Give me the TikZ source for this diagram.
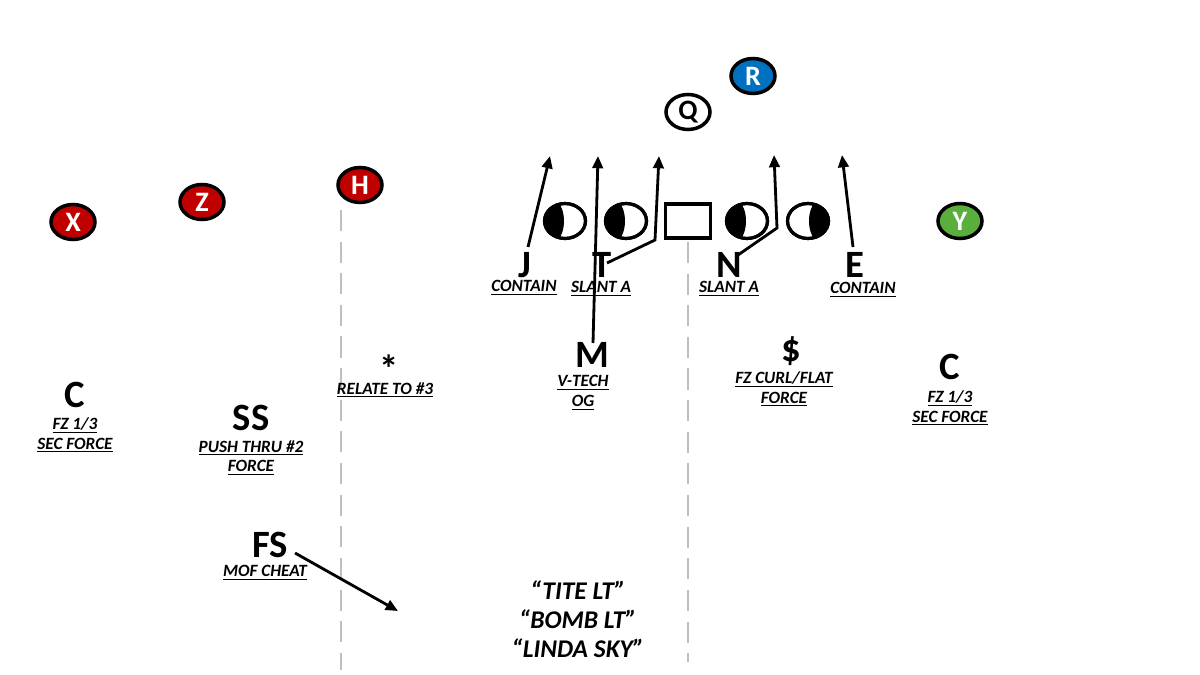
\documentclass[tikz,border=0pt]{standalone}
\usepackage{fontspec}
\setmainfont{Carlito}
\usetikzlibrary{shapes.geometric,arrows.meta}
\definecolor{redp}{HTML}{C00000}
\definecolor{bluep}{HTML}{0070C0}
\definecolor{greenp}{HTML}{5AAE3C}
\definecolor{dashgray}{HTML}{BFBFBF}
\begin{document}
\begin{tikzpicture}[x=0.02cm,y=-0.02cm,
  player/.style={ellipse,draw=black,line width=2pt,minimum width=0.88cm,minimum height=0.7cm,inner sep=0pt,text=white,font=\fontsize{16}{16}\selectfont\bfseries},
  olman/.style={ellipse,draw=black,line width=1.8pt,minimum width=0.82cm,minimum height=0.7cm,inner sep=0pt},
  center/.style={rectangle,draw=black,line width=1.8pt,minimum width=0.9cm,minimum height=0.68cm,inner sep=0pt},
  big/.style={font=\fontsize{22}{22}\selectfont\bfseries,inner sep=0pt,text depth=0pt},
  lab/.style={font=\fontsize{9.8}{11.3}\selectfont\bfseries\itshape,align=center,inner sep=0pt},
  call/.style={font=\fontsize{14.5}{16.4}\selectfont\bfseries\itshape,align=center,inner sep=0pt},
  route/.style={line width=1.6pt,-{Triangle[length=7pt,width=6pt]}},
  yard/.style={draw=dashgray,line width=1.5pt,dash pattern=on 12pt off 6pt}
]
\useasboundingbox (0,0) rectangle (1200,675);
% field markers
\draw[yard] (341,210) -- (341,670);
\draw[yard] (688,242) -- (688,662);
% receivers / backs
\node[player,fill=redp] (X) at (73,222) {X};
\node[player,fill=redp] (Z) at (202,202) {Z};
\node[player,fill=redp] (H) at (360,185) {H};
\node[player,fill=bluep] (R) at (753,76) {R};
\node[player,fill=white,text=black] (Q) at (688,112) {Q};
\node[player,fill=greenp] (Y) at (960,221) {Y};
% offensive line
\node[olman] (OL1) at (565,221) {};
\node[olman] (OL2) at (626,221) {};
\node[center] (OC) at (688,221) {};
\node[olman] (OL3) at (747,221) {};
\node[olman] (OL4) at (808,221) {};
\foreach \n in {OL1,OL2,OL3}{
  \begin{scope}
    \clip (\n.center) ellipse (0.41cm and 0.35cm);
    \fill[black] ([xshift=-0.5cm]\n.center) ellipse (0.48cm and 0.6cm);
  \end{scope}
  \node[olman] at (\n.center) {};
}
\begin{scope}
  \clip (OL4.center) ellipse (0.41cm and 0.35cm);
  \fill[black] ([xshift=0.5cm]OL4.center) ellipse (0.48cm and 0.6cm);
\end{scope}
\node[olman] at (OL4.center) {};
% defensive front
\node[big] (J) at (525,265) {J};
\node[big] (T) at (602,265) {T};
\node[big] (N) at (729,265) {N};
\node[big] (E) at (855,265) {E};
\node[lab] (Jl) at (524,288) {\underline{CONTAIN}};
\node[lab] (Tl) at (601,289) {\underline{SLANT A}};
\node[lab] (Nl) at (729,289) {\underline{SLANT A}};
\node[lab] (El) at (863,290) {\underline{CONTAIN}};
% second level
\node[big] (M) at (592,355) {M};
\node[lab] (Ml) at (583,393) {\underline{V-TECH}\\\underline{OG}};
\node[big] (D) at (791,349) {\$};
\node[lab] (Dl) at (784,389) {\underline{FZ CURL/FLAT}\\\underline{FORCE}};
\node[big] (C2) at (950,367) {C};
\node[lab] (C2l) at (950,408) {\underline{FZ 1/3}\\\underline{SEC FORCE}};
\node[big] (C1) at (75,395) {C};
\node[lab] (C1l) at (75,435) {\underline{FZ 1/3}\\\underline{SEC FORCE}};
\node[big] (SS) at (251,418) {SS};
\node[lab] (SSl) at (251,458) {\underline{PUSH THRU \#2}\\\underline{FORCE}};
\node[big] (S) at (389,369) {*};
\node[lab] (Sl) at (385,390) {\underline{RELATE TO \#3}};
\node[big] (FS) at (270,545) {FS};
\node[lab] (FSl) at (265,573) {\underline{MOF CHEAT}};
\node[call] (calls) at (578,619) {“TITE LT”\\“BOMB LT”\\“LINDA SKY”};
% route ends
\coordinate (Jend) at (550,156);
\coordinate (Mend) at (598,156);
\coordinate (Tbend) at (655,240);
\coordinate (Tend) at (659,156);
\coordinate (Nbend) at (777,228);
\coordinate (Nend) at (774,155);
\coordinate (Eend) at (842,155);
\coordinate (FSend) at (398,611);
\draw[route] ([shift={(3,-18)}]J.center) -- (Jend);
\draw[route] ([shift={(1,-12)}]M.center) -- (Mend);
\draw[route] ([shift={(5,-2)}]T.center) -- (Tbend) -- (Tend);
\draw[route] ([shift={(9,-10)}]N.center) -- (Nbend) -- (Nend);
\draw[route] ([shift={(-2,-18)}]E.center) -- (Eend);
\draw[route] ([shift={(25,8)}]FS.center) -- (FSend);
\end{tikzpicture}
\end{document}
